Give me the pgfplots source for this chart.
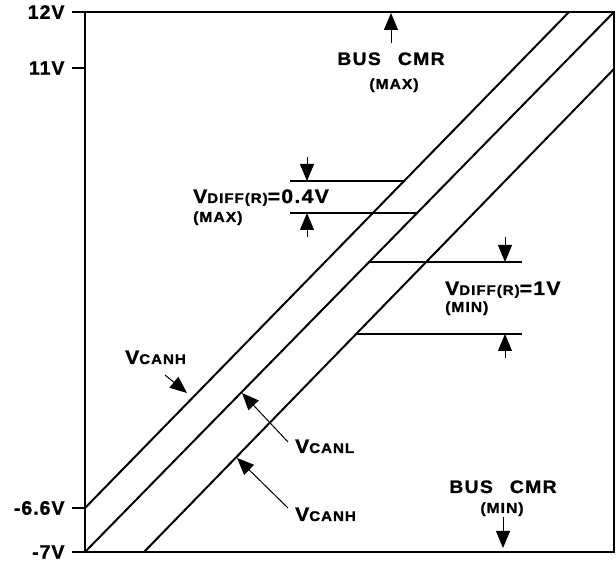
\documentclass[border=0pt]{standalone}
\usepackage{fontspec}
\setmainfont[LetterSpace=6]{Liberation Sans}
\newfontfamily\lbl[LetterSpace=7,FakeBold=1.2,FakeStretch=1.08]{Liberation Sans}
\newfontfamily\tkf[LetterSpace=5,FakeBold=1.2]{Liberation Sans}
\usepackage{pgfplots}
\pgfplotsset{compat=1.18}
\usetikzlibrary{arrows.meta}
\newcommand\bg[1]{{\fontsize{19.5}{21}\lbl\bfseries #1}}
\newcommand\bs[1]{{\fontsize{18}{20}\lbl\bfseries #1}}
\newcommand\sm[1]{{\fontsize{14}{16}\lbl\bfseries #1}}
\newcommand\pr[1]{{\fontsize{14.5}{16}\lbl\bfseries #1}}
\tikzset{ar/.style={line width=1pt,-{Triangle[length=17pt,width=14pt]}},
         dl/.style={line width=1.2pt}}
\begin{document}
\begin{tikzpicture}
\useasboundingbox (-85pt,-10pt) rectangle (531pt,552pt);
\begin{axis}[at={(0,0)}, anchor=south west, scale only axis,
  width=529pt, height=540pt,
  xmin=0, xmax=529, ymin=0, ymax=540,
  xtick=\empty,
  ytick={0,44,484,540}, yticklabels={-7V,-6.6V,11V,12V},
  ytick pos=left, tick align=outside, major tick length=13pt,
  tick style={line width=1.2pt, black},
  axis line style={line width=1.4pt},
  yticklabel style={font=\fontsize{19.5}{21}\tkf\bfseries, xshift=-4pt},
  clip=false]
% diagonal lines
\addplot[black, line width=2pt] coordinates {(0,44) (484,540)};
\addplot[black, line width=2pt] coordinates {(0,0) (529,540)};
\addplot[black, line width=2pt] coordinates {(59,0) (529,483)};
% dimension lines
\addplot[black, dl] coordinates {(205,371) (319,371)};
\addplot[black, dl] coordinates {(205,339) (332,339)};
\addplot[black, dl] coordinates {(284,290) (437,290)};
\addplot[black, dl] coordinates {(271,218) (437,218)};
% dimension arrows
\draw[ar] (axis cs:222,395) -- (axis cs:222,371);
\draw[ar] (axis cs:222,315) -- (axis cs:222,339);
\draw[ar] (axis cs:420,315) -- (axis cs:420,290);
\draw[ar] (axis cs:420,194) -- (axis cs:420,218);
% bus cmr arrows
\draw[ar] (axis cs:306,509) -- (axis cs:306,539);
\draw[ar] (axis cs:418,35) -- (axis cs:418,4);
% pointer arrows
\draw[ar] (axis cs:80,177) -- (axis cs:102,159);
\draw[ar] (axis cs:203,110) -- (axis cs:157,159);
\draw[ar] (axis cs:203,44) -- (axis cs:152,94);
% labels
\node[anchor=base west, inner sep=0] at (axis cs:108,349) {\bg{V}\sm{DIFF(R)}\bg{=0.4V}};
\node[anchor=base west, inner sep=0] at (axis cs:108,330) {\pr{(MAX)}};
\node[anchor=base west, inner sep=0] at (axis cs:360,257) {\bg{V}\sm{DIFF(R)}\bg{=1V}};
\node[anchor=base west, inner sep=0] at (axis cs:360,240) {\pr{(MIN)}};
\node[anchor=base, inner sep=0] at (axis cs:306,487) {\bs{BUS\hspace{17pt}CMR}};
\node[anchor=base, inner sep=0] at (axis cs:309,463) {\pr{(MAX)}};
\node[anchor=base, inner sep=0] at (axis cs:418,59) {\bs{BUS\hspace{17pt}CMR}};
\node[anchor=base, inner sep=0] at (axis cs:417,39) {\pr{(MIN)}};
\node[anchor=base west, inner sep=0] at (axis cs:40,188) {\bg{V}\sm{CANH}};
\node[anchor=base west, inner sep=0] at (axis cs:210,99) {\bg{V}\sm{CANL}};
\node[anchor=base west, inner sep=0] at (axis cs:210,31) {\bg{V}\sm{CANH}};
\end{axis}
\end{tikzpicture}
\end{document}
